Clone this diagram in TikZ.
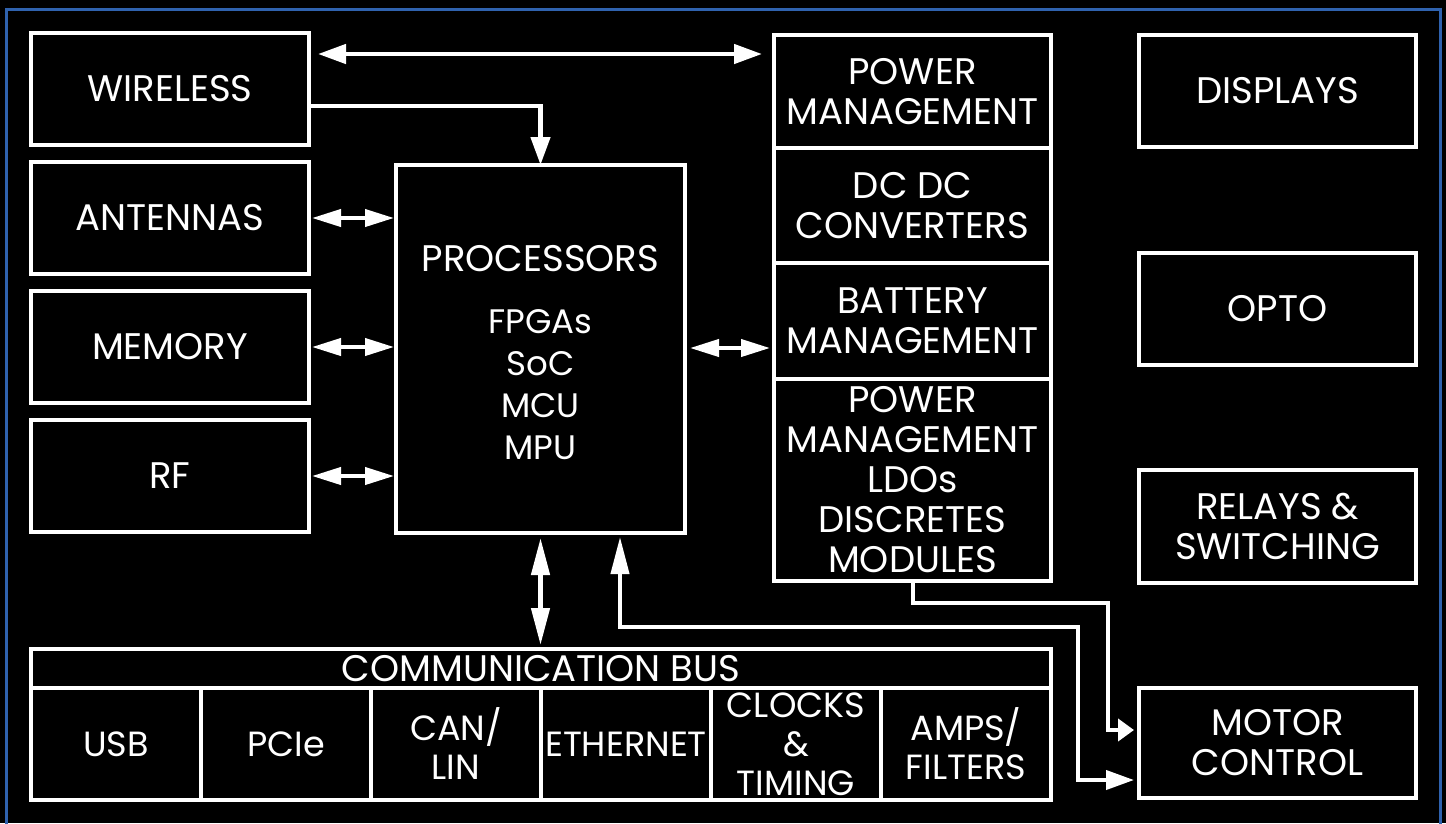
\documentclass[tikz,border=0pt]{standalone}
\usepackage{fontspec}
\setmainfont{Poppins}
\usetikzlibrary{arrows.meta,calc}
\definecolor{frameblue}{HTML}{2F62AE}
\begin{document}
\begin{tikzpicture}[x=1pt,y=-1pt,
  blk/.style={draw=white,line width=4pt,fill=black,text=white,inner sep=0pt,outer sep=0pt,align=center,font=\fontsize{37}{40}\selectfont},
  leftbox/.style={blk,minimum width=278pt,minimum height=112pt},
  pwrbox/.style={blk,minimum width=277pt},
  rightbox/.style={blk,minimum width=277pt,minimum height=112pt},
  buscell/.style={blk,minimum width=170pt,minimum height=112pt,font=\fontsize{35}{39}\selectfont},
  conn/.style={draw=white,line width=4.5pt,line join=miter},
  bigtip/.tip={Triangle[length=28pt,width=19pt]},
  smalltip/.tip={Triangle[length=29pt,width=17pt]},
  longtip/.tip={Triangle[length=37pt,width=18pt]},
  stubtip/.tip={Triangle[length=16pt,width=22pt]}
]
\useasboundingbox (0,0) rectangle (1446,823);
\fill[black] (0,0) rectangle (1446,823);
\draw[frameblue,line width=3pt] (6,9.5) rectangle (1440,840);

% left column
\node[leftbox] (wl)  at (170,89)  {WIRELESS};
\node[leftbox] (ant) at (170,218) {ANTENNAS};
\node[leftbox] (mem) at (170,347) {MEMORY};
\node[leftbox] (rf)  at (170,476) {RF};

% processor
\node[blk,minimum width=289pt,minimum height=368pt,
  label={[text=white,align=center,inner sep=0pt,yshift=-4pt,font=\fontsize{34}{42}\selectfont]center:{\fontsize{37}{42}\selectfont PROCESSORS}\\[20pt]FPGAs\\SoC\\MCU\\MPU}] (proc) at (540.5,349) {};

% power column
\node[pwrbox,minimum height=113pt] (pm1)  at (912.5,91.5) {POWER\\MANAGEMENT};
\node[pwrbox,minimum height=115pt] (dcdc) at (912.5,205.5) {DC DC\\CONVERTERS};
\node[pwrbox,minimum height=116pt] (batt) at (912.5,321) {BATTERY\\MANAGEMENT};
\node[pwrbox,minimum height=202pt] (ldo)  at (912.5,480) {POWER\\MANAGEMENT\\LDOs\\DISCRETES\\MODULES};

% right column
\node[rightbox] (disp) at (1277.5,91) {DISPLAYS};
\node[rightbox] (opto) at (1277.5,309) {OPTO};
\node[rightbox,minimum height=113pt] (rel) at (1277.5,526.5) {RELAYS \&\\SWITCHING};
\node[rightbox,minimum height=110pt] (mot) at (1277.5,743) {MOTOR\\CONTROL};

% communication bus
\node[blk,minimum width=1020pt,minimum height=39pt,font=\fontsize{37}{39}\selectfont] (bushdr) at (541,668.5) {COMMUNICATION BUS};
\node[buscell] (usb)  at (116,744) {USB};
\node[buscell] (pcie) at (286,744) {PCIe};
\node[buscell] (can)  at (456,744) {CAN/\\LIN};
\node[buscell] (eth)  at (626,744) {ETHERNET};
\node[buscell] (clk)  at (796,744) {CLOCKS\\\&\\TIMING};
\node[buscell] (amps) at (966,744) {AMPS/\\FILTERS};

% connectors
\draw[conn,{bigtip}-{bigtip},shorten <=9pt,shorten >=12pt] (wl.east |- 0,54) -- (pm1.west |- 0,54);
\draw[conn,-{bigtip}] (wl.east |- 0,106) -| (proc.north);
\foreach \n in {ant,mem,rf}
  \draw[conn,line width=4pt,{smalltip}-{smalltip},shorten <=3pt,shorten >=2pt] (\n.east) -- (\n.east -| proc.west);
\draw[conn,line width=4pt,{smalltip}-{smalltip},shorten <=5pt,shorten >=4pt] (proc.east |- 0,348) -- (batt.west |- 0,348);
\draw[conn,{longtip}-{longtip},shorten <=5pt,shorten >=4pt] (proc.south) -- (bushdr.north -| proc.south);
\draw[conn,line width=4pt,{longtip}-{bigtip},shorten <=4pt,shorten >=5pt] (proc.south -| 620,0) |- (1078,627) |- (mot.west |- 0,780);
\draw[conn,line width=4pt,-{stubtip},shorten >=5pt] (ldo.south) |- (1108,603) |- (mot.west |- 0,730);
\end{tikzpicture}
\end{document}
